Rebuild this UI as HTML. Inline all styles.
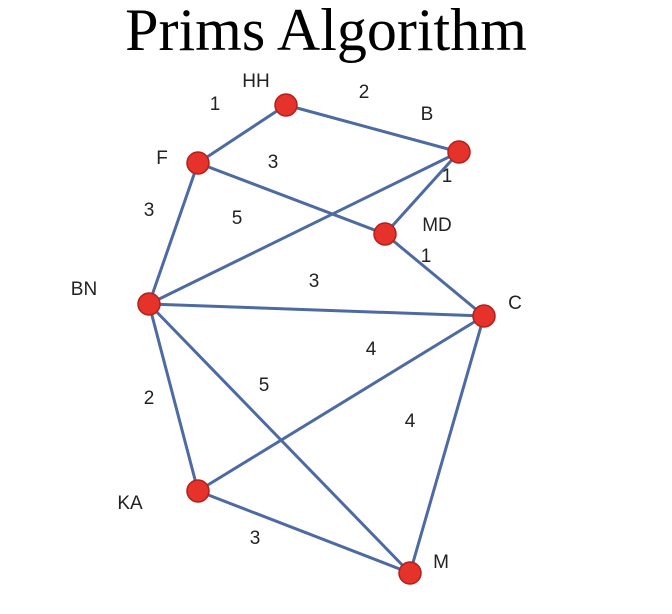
<!DOCTYPE html>
<html>
<head>
<meta charset="utf-8">
<style>
  html,body{margin:0;padding:0;background:#fff;}
  svg{display:block;}
</style>
</head>
<body>
<svg width="672" height="614" viewBox="0 0 672 614">
  <text x="326" y="50" text-anchor="middle" font-family="Liberation Serif, serif" font-size="60" fill="#000">Prims Algorithm</text>
  <g id="edges"></g>
  <g id="weights"></g>
  <g id="nodes"></g>
  <g id="labels"></g>
</svg>
<script>
const nodeNames = ["HH","B","F","MD","BN","C","KA","M"];
const nodeX = [286,459,198,385,149,484,198,410];
const nodeY = [105,152,163,234,304,316,491,573];
const labelX = [256,427,162,437,84,515,130,441];
const labelY = [87,120,164,231,295,309,509,568];
const edgeFrom = ["HH","HH","B","B","F","F","MD","BN","BN","BN","KA","KA","C"];
const edgeTo   = ["F","B","MD","BN","MD","BN","C","C","M","KA","C","M","M"];
const weights  = [1,2,1,5,3,3,1,3,5,2,4,3,4];
const weightX  = [215,364,447,237,273,149,426,314,264,149,371,255,410];
const weightY  = [110,98,182,224,168,216,262,287,391,404,355,544,427];

const NS="http://www.w3.org/2000/svg";
const idx = n => nodeNames.indexOf(n);
const eg=document.getElementById('edges'), wg=document.getElementById('weights'),
      ng=document.getElementById('nodes'), lg=document.getElementById('labels');

edgeFrom.forEach((f,i)=>{
  const a=idx(f), b=idx(edgeTo[i]);
  const l=document.createElementNS(NS,'line');
  l.setAttribute('x1',nodeX[a]);l.setAttribute('y1',nodeY[a]);
  l.setAttribute('x2',nodeX[b]);l.setAttribute('y2',nodeY[b]);
  l.setAttribute('stroke','#4d6aa3');l.setAttribute('stroke-width','3');
  
  
  eg.appendChild(l);
  const t=document.createElementNS(NS,'text');
  t.setAttribute('x',weightX[i]);t.setAttribute('y',weightY[i]);
  t.setAttribute('text-anchor','middle');
  t.setAttribute('font-family','Liberation Sans, sans-serif');
  t.setAttribute('font-size','19');t.setAttribute('fill','#222');
  t.textContent=weights[i];
  
  
  wg.appendChild(t);
});

nodeNames.forEach((n,i)=>{
  const c=document.createElementNS(NS,'circle');
  c.setAttribute('cx',nodeX[i]);c.setAttribute('cy',nodeY[i]);c.setAttribute('r','11');
  c.setAttribute('fill','#e5322b');c.setAttribute('stroke','#b51f1a');c.setAttribute('stroke-width','1.5');
  
  
  ng.appendChild(c);
  const t=document.createElementNS(NS,'text');
  t.setAttribute('x',labelX[i]);t.setAttribute('y',labelY[i]);
  t.setAttribute('text-anchor','middle');
  t.setAttribute('font-family','Liberation Sans, sans-serif');
  t.setAttribute('font-size','19');t.setAttribute('fill','#222');
  t.textContent=n;
  
  
  lg.appendChild(t);
});
</script>
</body>
</html>
